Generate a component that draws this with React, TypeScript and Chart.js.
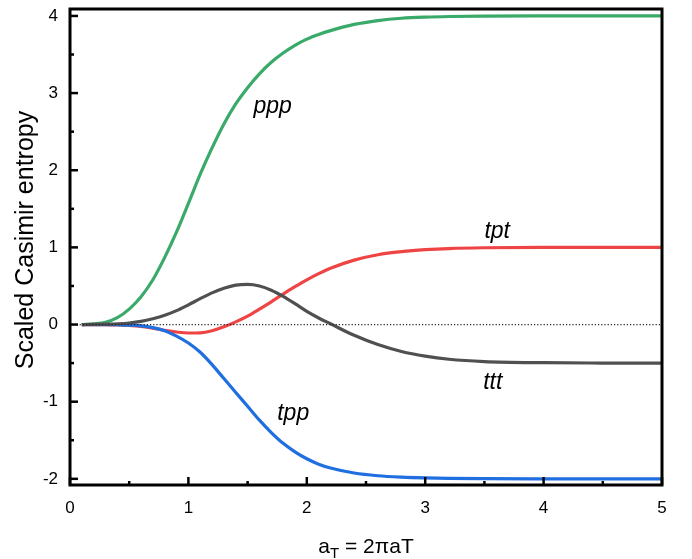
import React, { useEffect, useRef } from "react";
import { Chart, registerables } from "chart.js";

Chart.register(...registerables);

const xs = [0.1, 0.2, 0.3, 0.4, 0.5, 0.6, 0.7, 0.8, 0.9, 1.0, 1.1, 1.2, 1.3, 1.4, 1.5, 1.6, 1.7, 1.8, 1.9, 2.0, 2.1, 2.2, 2.4, 2.6, 2.8, 3.0, 3.2, 3.5, 4.0, 4.5, 5.0];
const ppp = [0, 0.01, 0.03, 0.09, 0.2, 0.36, 0.58, 0.87, 1.2, 1.57, 1.95, 2.29, 2.6, 2.86, 3.07, 3.25, 3.4, 3.52, 3.62, 3.7, 3.76, 3.81, 3.89, 3.94, 3.97, 3.985, 3.993, 3.998, 4.0, 4.0, 4.0];
const tpp = [0, 0, 0, -0.003, -0.008, -0.018, -0.04, -0.08, -0.15, -0.24, -0.36, -0.52, -0.7, -0.88, -1.06, -1.24, -1.4, -1.54, -1.65, -1.74, -1.81, -1.86, -1.925, -1.96, -1.978, -1.988, -1.994, -1.998, -2.0, -2.0, -2.0];
const ttt = [0, 0.002, 0.005, 0.01, 0.02, 0.04, 0.075, 0.12, 0.18, 0.255, 0.335, 0.41, 0.47, 0.51, 0.52, 0.5, 0.445, 0.365, 0.27, 0.17, 0.085, 0.01, -0.14, -0.26, -0.35, -0.41, -0.45, -0.48, -0.495, -0.499, -0.5];
const tpt = [0, 0, -0.003, -0.006, -0.012, -0.025, -0.048, -0.075, -0.097, -0.11, -0.107, -0.08, -0.03, 0.035, 0.11, 0.2, 0.295, 0.395, 0.49, 0.58, 0.66, 0.73, 0.835, 0.905, 0.945, 0.97, 0.985, 0.995, 1.0, 1.0, 1.0];
const zeroX = [0, 5];
const zeroY = [0, 0];

const xTicks = [0, 1, 2, 3, 4, 5];
const xMinor = [0.5, 1.5, 2.5, 3.5, 4.5];
const yTicks = [-2, -1, 0, 1, 2, 3, 4];
const yMinor = [-1.5, -0.5, 0.5, 1.5, 2.5, 3.5];

const curveLabels = ["ppp", "tpt", "ttt", "tpp"];
const labelX = [1.55, 3.5, 3.49, 1.75];
const labelY = [2.74, 1.125, -0.84, -1.24];

const FONT = '"Liberation Sans", Arial, sans-serif';

const pts = (xv: number[], yv: number[]) => xv.map((x, i) => ({ x, y: yv[i] }));

const framePlugin = {
  id: "frameTicks",
  afterDatasetsDraw(chart: any) {
    const { ctx, chartArea } = chart;
    const { left, right, top, bottom } = chartArea;
    const xs_ = chart.scales.x;
    const ys_ = chart.scales.y;
    ctx.save();
    ctx.strokeStyle = "#000";
    ctx.lineWidth = 3;
    ctx.lineCap = "butt";
    ctx.strokeRect(left, top, right - left, bottom - top);
    ctx.lineWidth = 2.5;
    const tick = (x1: number, y1: number, x2: number, y2: number) => {
      ctx.beginPath();
      ctx.moveTo(x1, y1);
      ctx.lineTo(x2, y2);
      ctx.stroke();
    };
    xTicks.forEach((v) => {
      const p = xs_.getPixelForValue(v);
      tick(p, bottom, p, bottom - 8);
    });
    xMinor.forEach((v) => {
      const p = xs_.getPixelForValue(v);
      tick(p, bottom, p, bottom - 4);
    });
    yTicks.forEach((v) => {
      const p = ys_.getPixelForValue(v);
      tick(left, p, left + 8, p);
    });
    yMinor.forEach((v) => {
      const p = ys_.getPixelForValue(v);
      tick(left, p, left + 4, p);
    });

    // curve labels
    ctx.fillStyle = "#000";
    ctx.font = `italic 23px ${FONT}`;
    ctx.textAlign = "left";
    ctx.textBaseline = "alphabetic";
    curveLabels.forEach((t, i) => {
      ctx.fillText(t, xs_.getPixelForValue(labelX[i]), ys_.getPixelForValue(labelY[i]));
    });

    // x title with subscript
    const main1 = "a";
    const sub = "T";
    const main2 = " = 2\u03c0aT";
    ctx.font = `21px ${FONT}`;
    const w1 = ctx.measureText(main1).width;
    const w3 = ctx.measureText(main2).width;
    ctx.font = `15px ${FONT}`;
    const w2 = ctx.measureText(sub).width;
    const total = w1 + w2 + w3;
    const cx = (left + right) / 2;
    const x0 = cx - total / 2;
    const base = 553;
    ctx.font = `21px ${FONT}`;
    ctx.fillText(main1, x0, base);
    ctx.font = `15px ${FONT}`;
    ctx.fillText(sub, x0 + w1, base + 5);
    ctx.font = `21px ${FONT}`;
    ctx.fillText(main2, x0 + w1 + w2, base);

    // y title
    ctx.save();
    ctx.translate(33, 240);
    ctx.rotate(-Math.PI / 2);
    ctx.font = `25px ${FONT}`;
    ctx.textAlign = "center";
    ctx.fillText("Scaled Casimir entropy", 0, 0);
    ctx.restore();

    ctx.restore();
  },
};

export default function App() {
  const ref = useRef<HTMLCanvasElement>(null);
  useEffect(() => {
    if (!ref.current) return;
    const line = (data: any, color: string) => ({
      data,
      borderColor: color,
      backgroundColor: color,
      borderWidth: 3.2,
      pointRadius: 0,
      fill: false,
      cubicInterpolationMode: "monotone",
    });
    const chart = new Chart(ref.current, {
      type: "line",
      data: {
        datasets: [
          {
            data: pts(zeroX, zeroY),
            borderColor: "#222",
            borderWidth: 1.2,
            borderDash: [1.2, 2],
            pointRadius: 0,
            fill: false,
          } as any,
          line(pts(xs, ttt), "#505050"),
          line(pts(xs, ppp), "#3aaa6a"),
          line(pts(xs, tpp), "#1f6fe0"),
          line(pts(xs, tpt), "#ef4444"),
        ],
      },
      options: {
        animation: false,
        responsive: false,
        events: [],
        layout: { padding: { top: 9, right: 30, left: 0, bottom: 0 } },
        plugins: { legend: { display: false }, tooltip: { enabled: false } },
        scales: {
          x: {
            type: "linear",
            min: 0,
            max: 5,
            grid: { display: false, drawTicks: false },
            border: { display: false },
            afterBuildTicks: (s: any) => {
              s.ticks = xTicks.map((v) => ({ value: v }));
            },
            afterFit: (s: any) => {
              s.height = 74;
              s.paddingLeft = 0;
              s.paddingRight = 0;
            },
            ticks: {
              padding: 13,
              color: "#000",
              font: { family: FONT, size: 17 },
              maxRotation: 0,
              callback: (v: any) => String(v),
            },
          },
          y: {
            type: "linear",
            min: -2.08,
            max: 4.09,
            grid: { display: false, drawTicks: false },
            border: { display: false },
            afterBuildTicks: (s: any) => {
              s.ticks = yTicks.map((v) => ({ value: v }));
            },
            afterFit: (s: any) => {
              s.width = 70;
              s.paddingTop = 0;
              s.paddingBottom = 0;
            },
            ticks: {
              padding: 12,
              color: "#000",
              font: { family: FONT, size: 17 },
              callback: (v: any) => String(v),
            },
          },
        },
      } as any,
      plugins: [framePlugin],
    });
    return () => chart.destroy();
  }, []);
  return (
    <div style={{ position: "absolute", left: 0, top: 0, width: 692, height: 559 }}>
      <canvas ref={ref} width={692} height={559} style={{ width: 692, height: 559 }} />
    </div>
  );
}
